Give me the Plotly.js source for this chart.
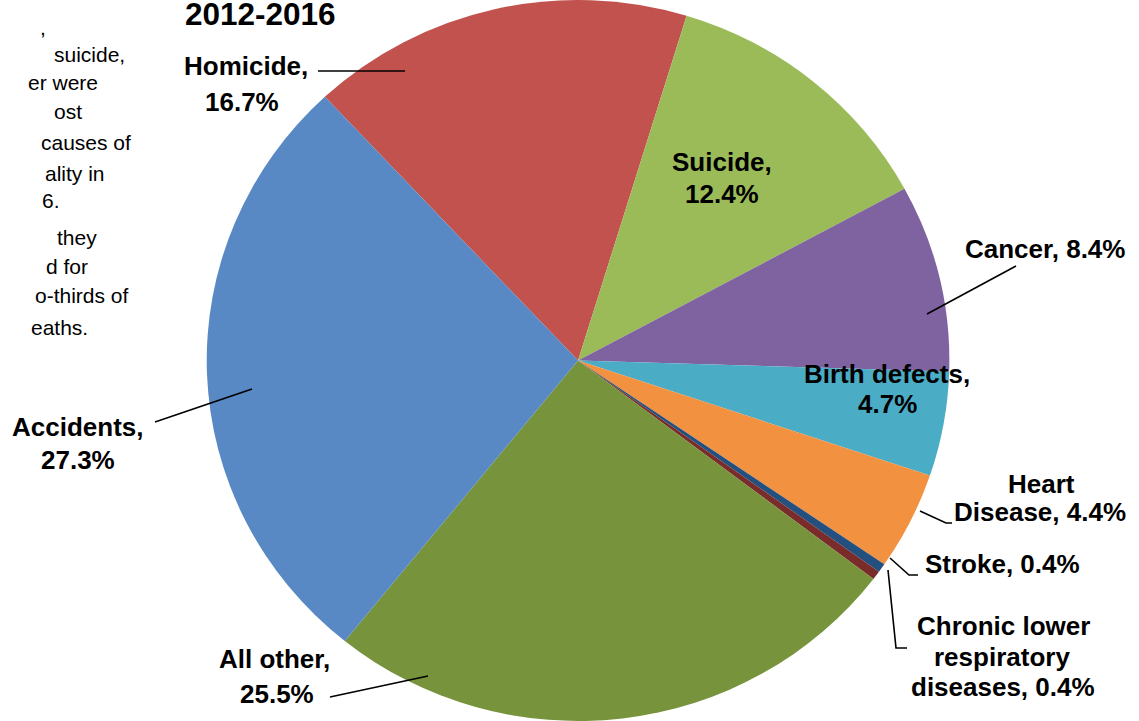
<!DOCTYPE html>
<html>
<head>
<meta charset="utf-8">
<script src="https://cdn.plot.ly/plotly-3.0.1.min.js"></script>
<style>
html,body{margin:0;padding:0;background:#ffffff;overflow:hidden}
#chart{width:1139px;height:721px}
</style>
</head>
<body>
<div id="chart"></div>
<script>
// ---------- data ----------
const causes = ['Homicide', 'Suicide', 'Cancer', 'Birth defects', 'Heart Disease', 'Stroke',
                'Chronic lower respiratory diseases', 'All other', 'Accidents'];
const shares = [16.7, 12.4, 8.4, 4.7, 4.4, 0.4, 0.4, 25.5, 27.3];
const sliceColors = ['#C1524E', '#9BBB59', '#7F62A0', '#4BACC6', '#F29241', '#24507F',
                     '#7A2C2A', '#77933C', '#5889C4'];
const titleText = '2012-2016';
const labelLines = [
  ['Homicide,', '16.7%'],
  ['Suicide,', '12.4%'],
  ['Cancer, 8.4%'],
  ['Birth defects,', '4.7%'],
  ['Heart', 'Disease, 4.4%'],
  ['Stroke, 0.4%'],
  ['Chronic lower', 'respiratory', 'diseases, 0.4%'],
  ['All other,', '25.5%'],
  ['Accidents,', '27.3%']
];
// visible (cropped) part of the note text box
const noteLines = [',', 'suicide,', 'er were', 'ost', 'causes of', 'ality in', '6.',
                   'they', 'd for', 'o-thirds of', 'eaths.'];

// ---------- layout helpers (pixel -> paper) ----------
const W = 1139, H = 721;
const px = x => x / W;
const py = y => 1 - y / H;

const labelPos = [
  [[246, 66], [242, 102]],
  [[722, 162], [722, 194]],
  [[1045, 249]],
  [[887, 374], [887, 404]],
  [[1041, 484], [1040, 512]],
  [[1002, 564]],
  [[1003, 626], [1002, 657], [1003, 687]],
  [[274, 659], [277, 694]],
  [[78, 427], [78, 460]]
];
const leaders = [
  [[318, 71], [405, 71]],
  [[1016, 266], [927, 314]],
  [[920, 511], [946, 523], [952, 523]],
  [[890, 558], [909, 575], [918, 575]],
  [[888, 570], [896, 648], [907, 648]],
  [[330, 697], [428, 676]],
  [[155, 422], [252, 389]]
];
const noteRight = [48, 127, 100, 84, 133, 107, 62, 99, 90, 131, 90];
const noteY = [28, 55, 83, 112, 142, 173, 200, 237, 266, 295, 327];

const font = 'Liberation Sans, Arial, sans-serif';
const annotations = [];
labelLines.forEach((lines, i) => {
  lines.forEach((t, j) => {
    annotations.push({
      xref: 'paper', yref: 'paper', x: px(labelPos[i][j][0]), y: py(labelPos[i][j][1]),
      xanchor: 'center', yanchor: 'middle', showarrow: false,
      text: '<b>' + t + '</b>', font: {family: font, size: 26, color: '#000'}
    });
  });
});
noteLines.forEach((t, j) => {
  annotations.push({
    xref: 'paper', yref: 'paper', x: px(noteRight[j]), y: py(noteY[j]),
    xanchor: 'right', yanchor: 'middle', showarrow: false,
    text: t, font: {family: font, size: 21, color: '#000'}
  });
});
annotations.push({
  xref: 'paper', yref: 'paper', x: px(260), y: py(14),
  xanchor: 'center', yanchor: 'middle', showarrow: false,
  text: '<b>' + titleText + '</b>', font: {family: font, size: 31.5, color: '#000'}
});

const shapes = leaders.map(pts => ({
  type: 'path', xref: 'paper', yref: 'paper',
  path: pts.map((p, k) => (k ? 'L' : 'M') + px(p[0]) + ',' + py(p[1])).join(' '),
  line: {color: '#000', width: 1.6}
}));

const trace = {
  type: 'pie',
  labels: causes,
  values: shares,
  sort: false,
  direction: 'clockwise',
  rotation: -43,
  textinfo: 'none',
  hoverinfo: 'none',
  showlegend: false,
  marker: {colors: sliceColors, line: {width: 0}},
  domain: {x: [0.1575, 0.8575], y: [0, 1]}
};

const layout = {
  width: W, height: H,
  margin: {l: 0, r: 0, t: 0, b: 0},
  paper_bgcolor: '#ffffff',
  plot_bgcolor: '#ffffff',
  showlegend: false,
  annotations: annotations,
  shapes: shapes
};

Plotly.newPlot('chart', [trace], layout, {staticPlot: true}).then(() => {
  // slight horizontal stretch of the pie (reference pie is a little elliptic)
  const s = 1.03, cx = 578;
  document.querySelectorAll('.pielayer').forEach(g => {
    g.setAttribute('transform', 'translate(' + (cx * (1 - s)) + ',0) scale(' + s + ',1)');
  });
});
</script>
</body>
</html>
